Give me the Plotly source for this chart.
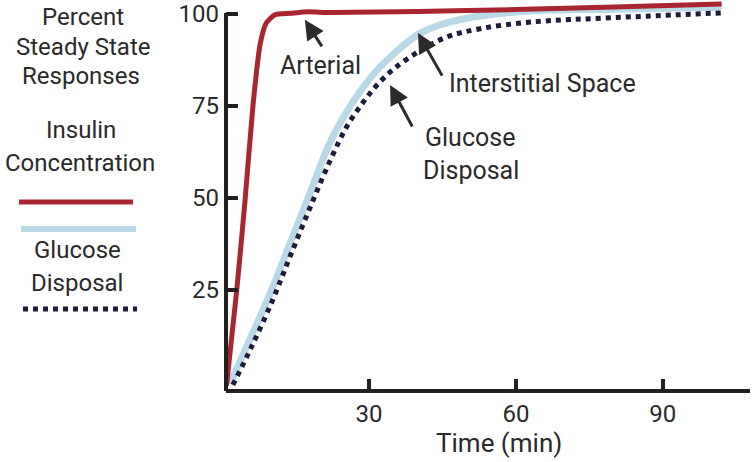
import plotly.graph_objects as go

# ---- data ----
arterial_t = [0.9, 3.0, 4.7, 6.3, 7.8, 9.0, 10.8, 14.0, 17.5, 22.0, 40.0, 60.0, 80.0, 102.0]
arterial_v = [-1.0, 25.0, 49.5, 75.0, 92.0, 97.5, 99.8, 100.2, 100.6, 100.4, 100.7, 101.2, 101.9, 102.7]

interstitial_t = [1.6, 5.5, 9.8, 14.0, 18.0, 22.0, 25.5, 28.5, 31.5, 34.5, 37.5, 40.5, 44.0, 48.0, 53.0, 63.0, 80.0, 102.0]
interstitial_v = [-0.5, 11.0, 24.0, 38.0, 51.5, 65.0, 73.5, 79.5, 84.5, 88.5, 92.0, 94.8, 96.8, 98.3, 99.5, 100.8, 101.3, 101.8]

disposal_t = [2.2, 6.0, 10.4, 14.0, 18.0, 22.0, 25.5, 28.8, 31.5, 35.0, 40.4, 46.0, 52.7, 63.0, 80.0, 102.0]
disposal_v = [-0.8, 9.5, 22.5, 34.5, 47.5, 60.0, 69.5, 76.0, 80.5, 85.0, 90.0, 93.8, 96.0, 97.8, 99.0, 100.3]

x_ticks = [30, 60, 90]
y_ticks = [25, 50, 75, 100]

x_range = [0.8, 107.8]
y_range = [-1.9, 103.8]

RED = "#A8262F"
BLUE = "#B9D9E6"
NAVY = "#1C1D3B"
AX = "#231F20"
TXT = "#2A2A2A"
FONT = "Roboto"

W, H = 755, 462
ML, MR, MT, MB = 226, 5, 0, 73
PW, PH = W - ML - MR, H - MT - MB


def pp(x, y):
    """pixel -> paper coordinates"""
    return (x - ML) / PW, (H - MB - y) / PH


fig = go.Figure()
fig.add_trace(go.Scatter(x=interstitial_t, y=interstitial_v, mode="lines",
                         line=dict(color=BLUE, width=7, shape="spline", smoothing=1.0),
                         name="Interstitial Space"))
fig.add_trace(go.Scatter(x=disposal_t, y=disposal_v, mode="lines",
                         line=dict(color=NAVY, width=5, dash="dot", shape="spline", smoothing=1.0),
                         name="Glucose Disposal"))
fig.add_trace(go.Scatter(x=arterial_t, y=arterial_v, mode="lines",
                         line=dict(color=RED, width=5, shape="spline", smoothing=0.6),
                         name="Arterial"))

shapes = []
# y axis line (stops at the 100 tick)
y_top = (100.3 - y_range[0]) / (y_range[1] - y_range[0])
shapes.append(dict(type="line", xref="paper", yref="paper", x0=0, x1=0, y0=-0.005, y1=y_top,
                   line=dict(color=AX, width=4)))
# legend samples
for (x0, x1, y, col, w, d) in [(19, 133, 202, RED, 5, "solid"),
                               (21, 136, 229, BLUE, 6, "solid"),
                               (23, 137, 309, NAVY, 5, "dot")]:
    a = pp(x0, y)
    b = pp(x1, y)
    shapes.append(dict(type="line", xref="paper", yref="paper", x0=a[0], x1=b[0], y0=a[1], y1=b[1],
                       line=dict(color=col, width=w, dash=d)))

annotations = []
for txt, x, y in [("Percent", 83, 17), ("Steady State", 83, 47), ("Responses", 81, 76),
                  ("Insulin", 81, 130), ("Concentration", 80, 163),
                  ("Glucose", 77, 250), ("Disposal", 77, 283)]:
    px_, py_ = pp(x, y)
    annotations.append(dict(text=txt, x=px_, y=py_, xref="paper", yref="paper", showarrow=False,
                            xanchor="center", yanchor="middle",
                            font=dict(family=FONT, size=24, color=TXT)))
for txt, x, y in [("Arterial", 320, 65), ("Interstitial Space", 542, 83),
                  ("Glucose", 470, 137), ("Disposal", 471, 170)]:
    px_, py_ = pp(x, y)
    annotations.append(dict(text=txt, x=px_, y=py_, xref="paper", yref="paper", showarrow=False,
                            xanchor="center", yanchor="middle",
                            font=dict(family=FONT, size=25, color=TXT)))
# axis title
tx, ty = pp(499, 443)
annotations.append(dict(text="Time (min)", x=tx, y=ty, xref="paper", yref="paper", showarrow=False,
                        xanchor="center", yanchor="middle",
                        font=dict(family=FONT, size=26, color=TXT)))
# arrows
for hx, hy, ax, ay in [(16.9, 98.4, 18, 28), (40.0, 94.8, 25, 44), (34.3, 80.7, 23, 43)]:
    annotations.append(dict(text="", x=hx, y=hy, xref="x", yref="y", ax=ax, ay=ay,
                            showarrow=True, arrowhead=2, arrowsize=1.3, arrowwidth=3,
                            arrowcolor="#2b2b2b", standoff=0))

fig.update_layout(
    width=W, height=H,
    margin=dict(l=ML, r=MR, t=MT, b=MB, pad=0),
    paper_bgcolor="white", plot_bgcolor="white",
    showlegend=False,
    shapes=shapes, annotations=annotations,
    font=dict(family=FONT, color=AX),
    xaxis=dict(range=x_range, tickvals=x_ticks, ticktext=[str(v) for v in x_ticks],
               showgrid=False, zeroline=False, showline=True, linecolor=AX, linewidth=4,
               ticks="inside", ticklen=10, tickwidth=4, tickcolor=AX,
               tickfont=dict(family=FONT, size=24, color=TXT)),
    yaxis=dict(range=y_range, tickvals=y_ticks, ticktext=[str(v) for v in y_ticks],
               showgrid=False, zeroline=False, showline=False,
               ticks="inside", ticklen=12, tickwidth=4, tickcolor=AX,
               ticklabelstandoff=6,
               tickfont=dict(family=FONT, size=24, color=TXT)),
)

fig.write_html("out.html", config={"displayModeBar": False},
               post_script="document.body.style.margin='0';")
